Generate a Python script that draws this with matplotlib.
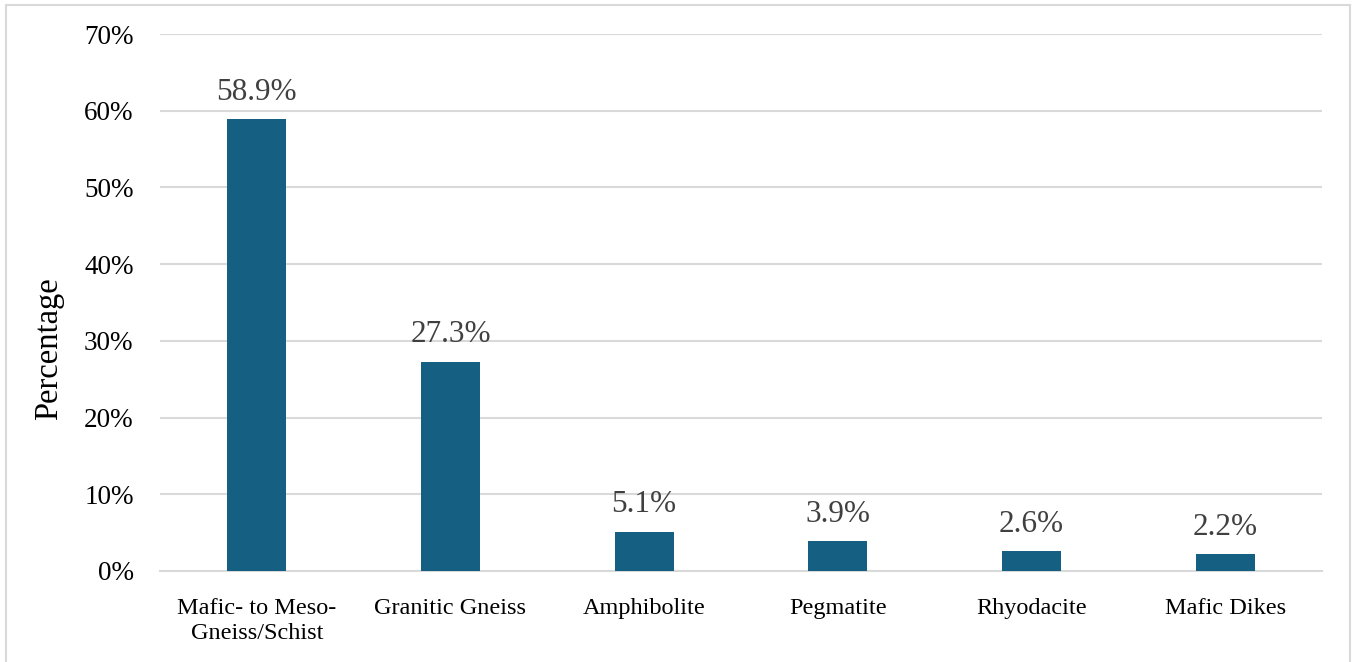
import matplotlib.pyplot as plt
from matplotlib.patches import Rectangle
from matplotlib.ticker import FuncFormatter

# rock types and their share of the samples (%)
rock_types = ['Mafic- to Meso-\nGneiss/Schist', 'Granitic Gneiss', 'Amphibolite',
              'Pegmatite', 'Rhyodacite', 'Mafic Dikes']
percent = [58.9, 27.3, 5.1, 3.9, 2.6, 2.2]
y_ticks = [0, 10, 20, 30, 40, 50, 60, 70]

plt.rcParams['font.family'] = ['Liberation Serif', 'DejaVu Serif']

W, H = 1357, 662
fig = plt.figure(figsize=(W / 100, H / 100), dpi=100)
ax = fig.add_axes([160 / W, 1 - 571 / H, (1322 - 160) / W, (571 - 34) / H])

# chart area frame
fig.patches.append(Rectangle((6 / W, -0.05), (1350 - 6) / W, 1.05 - 5 / H,
                             transform=fig.transFigure, fill=False,
                             edgecolor='#d9d9d9', linewidth=1.5))

x = range(len(rock_types))
bars = ax.bar(x, percent, width=0.305, color='#156082', zorder=3)

for b, v in zip(bars, percent):
    ax.annotate('%.1f%%' % v, (b.get_x() + b.get_width() / 2, v),
                xytext=(0, 9), textcoords='offset points',
                ha='center', va='bottom', fontsize=22.5, color='#404040')

ax.set_xlim(-0.5, len(rock_types) - 0.5)
ax.set_ylim(0, 70)
ax.set_yticks(y_ticks)
ax.yaxis.set_major_formatter(FuncFormatter(lambda v, p: '%d%%' % v))
ax.set_xticks(list(x))
ax.set_xticklabels(rock_types, fontsize=17.5, va='top', linespacing=1.25)

ax.grid(axis='y', color='#d9d9d9', linewidth=1.5, zorder=0)
for s in ['top', 'right', 'left']:
    ax.spines[s].set_visible(False)
ax.spines['bottom'].set_color('#d9d9d9')
ax.spines['bottom'].set_linewidth(1.5)
ax.tick_params(axis='both', length=0)
ax.tick_params(axis='y', labelsize=19.5, pad=19)
ax.tick_params(axis='x', pad=19.5)

ax.set_ylabel('Percentage', fontsize=23.5, va='center')
ax.yaxis.set_label_coords((49 - 160) / 1162, (571 - 349) / 537)

fig.savefig('out.png', dpi=100)
